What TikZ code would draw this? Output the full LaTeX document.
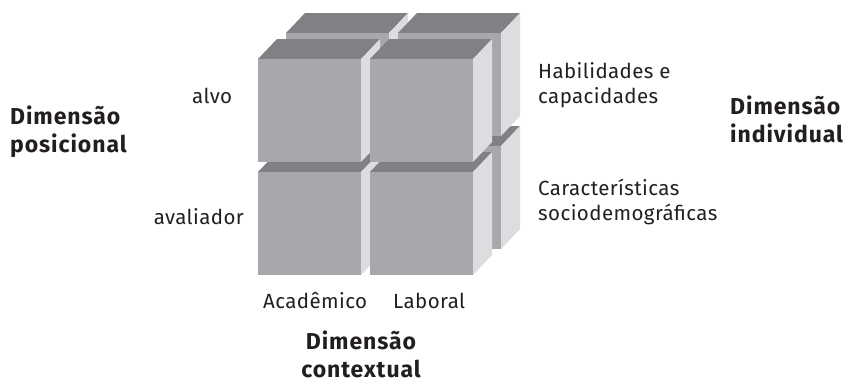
\documentclass[tikz,border=0pt]{standalone}
\usepackage{fontspec}
\setmainfont{Fira Sans}
\newfontfamily\lblfont[LetterSpace=2]{Fira Sans}
\newfontfamily\dimfont[LetterSpace=4]{Fira Sans Bold}
\definecolor{frontc}{HTML}{A7A8AC}
\definecolor{topc}{HTML}{808185}
\definecolor{sidec}{HTML}{DCDDDF}
\definecolor{txtc}{HTML}{231F20}
\newcommand{\cubeblock}[2]{%
  \fill[topc] (#1,#2) -- ++(19,-20) -- ++(103,0) -- ++(-19,20) -- cycle;
  \fill[sidec] (#1+103,#2) -- ++(19,-20) -- ++(0,103) -- ++(-19,20) -- cycle;
  \fill[frontc] (#1,#2) rectangle ++(103,103);
}
\tikzset{
  lbl/.style={inner sep=0pt, text=txtc, font=\lblfont\fontsize{20.5}{25}\selectfont, align=left},
  dimlbl/.style={inner sep=0pt, text=txtc, font=\dimfont\fontsize{23}{28}\selectfont, align=left},
}
\begin{document}
\begin{tikzpicture}[x=1pt,y=-1pt]
\useasboundingbox[fill=white] (0,0) rectangle (845,383);
% back layer
\cubeblock{286}{146}
\cubeblock{398}{146}
\cubeblock{286}{33}
\cubeblock{398}{33}
% front layer
\cubeblock{258}{172}
\cubeblock{370}{172}
\cubeblock{258}{59}
\cubeblock{370}{59}
% labels
\node[lbl, anchor=base west] (alvo) at (192,103) {alvo};
\node[lbl, anchor=base east] (avaliador) at (244,224) {avaliador};
\node[lbl, anchor=base west] (habil) at (538,103) {Habilidades e\\capacidades};
\node[lbl, anchor=base west] (carac) at (538,220) {Características\\sociodemográficas};
\node[lbl, anchor=base west] (acad) at (263,308) {Acadêmico};
\node[lbl, anchor=base west] (labor) at (393,308) {Laboral};
\node[dimlbl, anchor=base west] (posic) at (10,152) {Dimensão\\posicional};
\node[dimlbl, anchor=base west] (indiv) at (730,142) {Dimensão\\individual};
\node[dimlbl, anchor=base, align=center] (context) at (361,377) {Dimensão\\contextual};
\end{tikzpicture}
\end{document}
